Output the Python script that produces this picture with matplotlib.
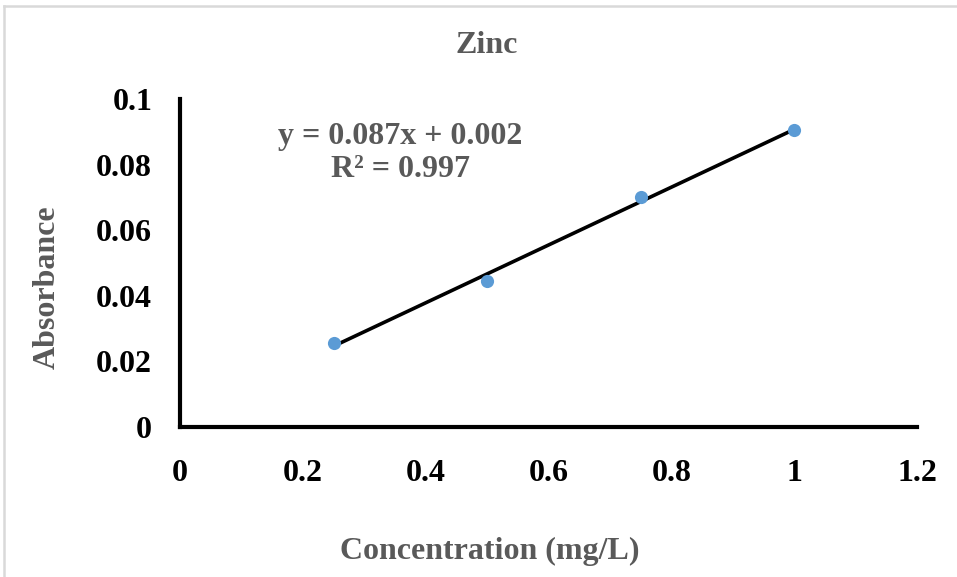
#!/usr/bin/env python3
'''
Zinc calibration curve: absorbance against concentration,
with a linear trendline and its equation.
'''

import numpy as np
from matplotlib import pyplot as plt
from matplotlib.lines import Line2D

CONCENTRATION = [0.25, 0.5, 0.75, 1.0]
ABSORBANCE = [0.0256, 0.0445, 0.0701, 0.0905]
X_TICKS = [0, 0.2, 0.4, 0.6, 0.8, 1, 1.2]
Y_TICKS = [0, 0.02, 0.04, 0.06, 0.08, 0.1]
EQUATION = 'y = 0.087x + 0.002\nR² = 0.997'

GRAY = '#595959'
BLUE = '#5B9BD5'
FRAME = '#d9d9d9'

plt.rcParams['font.family'] = ['Liberation Serif', 'DejaVu Serif']
plt.rcParams['font.weight'] = 'bold'

fig = plt.figure(figsize=(9.57, 5.77), dpi=100)
ax = fig.add_axes([0.1881, 0.260, 0.7701, 0.5685])

# light frame on the top and left of the chart area
fig.lines.append(Line2D([0.004, 1.0], [0.99, 0.99], transform=fig.transFigure,
                        color=FRAME, linewidth=1.8))
fig.lines.append(Line2D([0.004, 0.004], [0.0, 0.99], transform=fig.transFigure,
                        color=FRAME, linewidth=1.8))

# trendline from a least squares fit
slope, intercept = np.polyfit(CONCENTRATION, ABSORBANCE, 1)
x_fit = np.array([min(CONCENTRATION), max(CONCENTRATION)])
ax.plot(x_fit, slope * x_fit + intercept, color='black', linewidth=2.6, zorder=2)
ax.scatter(CONCENTRATION, ABSORBANCE, s=90, color=BLUE, zorder=3, linewidths=0)

ax.set_xlim(0, 1.2)
ax.set_ylim(0, 0.1)
ax.set_xticks(X_TICKS)
ax.set_yticks(Y_TICKS)
ax.set_xticklabels([f'{t:g}' for t in X_TICKS], fontsize=23, fontweight='bold')
ax.set_yticklabels([f'{t:g}' for t in Y_TICKS], fontsize=23, fontweight='bold')
ax.tick_params(axis='x', length=0, pad=23)
ax.tick_params(axis='y', length=0, pad=20)

for side in ('top', 'right'):
    ax.spines[side].set_visible(False)
for side in ('left', 'bottom'):
    ax.spines[side].set_linewidth(3)

ax.text(0.2985, 0.835, EQUATION, transform=ax.transAxes, ha='center', va='center',
        fontsize=23, fontweight='bold', color=GRAY, linespacing=1.15)

fig.text(0.509, 0.921, 'Zinc', ha='center', va='center', fontsize=23,
         fontweight='bold', color=GRAY)
fig.text(0.049, 0.502, 'Absorbance', ha='center', va='center', rotation=90,
         fontsize=23, fontweight='bold', color=GRAY)
fig.text(0.512, 0.045, 'Concentration (mg/L)', ha='center', va='center',
         fontsize=23, fontweight='bold', color=GRAY)

fig.savefig('out.png', dpi=100)
